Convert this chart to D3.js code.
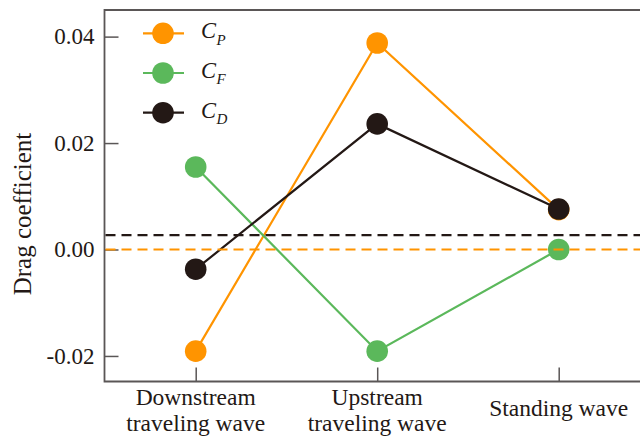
<!DOCTYPE html>
<html>
<head>
<meta charset="utf-8">
<script src="https://cdn.jsdelivr.net/npm/d3@7"></script>
<style>
  body { margin: 0; background: #fff; }
  text { font-family: "Liberation Serif", "Times New Roman", serif; fill: #231815; }
</style>
</head>
<body>
<div id="chart"></div>
<script>
// categories on the x axis (two-line labels)
const categories = ["Downstream traveling wave", "Upstream traveling wave", "Standing wave"];
const categoryLines = [["Downstream", "traveling wave"], ["Upstream", "traveling wave"], ["Standing wave"]];

// drag coefficient components
const cpValues = [-0.0191, 0.0388, 0.0075];
const cfValues = [0.0155, -0.0191, 0.0];
const cdValues = [-0.0037, 0.0236, 0.0076];

// reference levels (dashed)
const cpRef = 0.0;
const cdRef = 0.0027;

const yTicks = [-0.02, 0.0, 0.02, 0.04];

const series = [
  {name: "P", values: cpValues, color: "#ff9400"},
  {name: "F", values: cfValues, color: "#5bb85b"},
  {name: "D", values: cdValues, color: "#231815"}
];

const W = 640, H = 441;
const plotLeft = 104.5, plotTop = 10, plotBottom = 381.5;

const svg = d3.select("#chart").append("svg")
  .attr("width", W).attr("height", H);

//scales
const x = d3.scalePoint().domain(categories).range([195.7, 558.7]);
const y = d3.scaleLinear().domain([-0.0248, 0.045]).range([plotBottom, plotTop]);

const axisColor = "#5a5656";
const fmt = d3.format(".2f");

//y axis with inward ticks
const yAxis = svg.append("g")
  .attr("transform", `translate(${plotLeft},0)`)
  .call(d3.axisLeft(y).tickValues(yTicks).tickSize(-14).tickPadding(10)
    .tickFormat(d => fmt(d).replace("\u2212", "-")));
yAxis.select(".domain").remove();
yAxis.selectAll("line").attr("stroke", axisColor).attr("stroke-width", 1.5);
yAxis.selectAll("text").attr("font-size", 23).attr("font-family", null).attr("fill", "#231815");

//x axis with inward ticks
const xAxis = svg.append("g")
  .attr("transform", `translate(0,${plotBottom})`)
  .call(d3.axisBottom(x).tickSize(-14).tickFormat(""));
xAxis.select(".domain").remove();
xAxis.selectAll("line").attr("stroke", axisColor).attr("stroke-width", 1.5);

//x labels
categories.forEach((c, i) => {
  const lines = categoryLines[i];
  const t = svg.append("text")
    .attr("x", x(c))
    .attr("text-anchor", "middle")
    .attr("font-size", 23.5);
  if (lines.length === 2) {
    t.append("tspan").attr("x", x(c)).attr("y", 405).text(lines[0]);
    t.append("tspan").attr("x", x(c)).attr("y", 431).text(lines[1]);
  } else {
    t.append("tspan").attr("x", x(c)).attr("y", 416).text(lines[0]);
  }
});

//frame
svg.append("path")
  .attr("d", `M${W},${plotTop}H${plotLeft}V${plotBottom}H${W}`)
  .attr("fill", "none")
  .attr("stroke", axisColor)
  .attr("stroke-width", 1.8);

//y label
svg.append("text")
  .attr("transform", `translate(31,214) rotate(-90)`)
  .attr("text-anchor", "middle")
  .attr("font-size", 25)
  .text("Drag coefficient");

//series lines and points
const line = d3.line()
  .x((d, i) => x(categories[i]))
  .y(d => y(d));

series.forEach(s => {
  svg.append("path")
    .datum(s.values)
    .attr("fill", "none")
    .attr("stroke", s.color)
    .attr("stroke-width", 2.2)
    .attr("d", line);
  svg.selectAll(null)
    .data(s.values)
    .enter().append("circle")
    .attr("cx", (d, i) => x(categories[i]))
    .attr("cy", d => y(d))
    .attr("r", 10.8)
    .attr("fill", s.color);
});

//dashed reference lines
[[cdRef, "#231815"], [cpRef, "#ff9400"]].forEach(([v, col]) => {
  svg.append("line")
    .attr("x1", plotLeft + 1).attr("x2", W)
    .attr("y1", y(v)).attr("y2", y(v))
    .attr("stroke", col)
    .attr("stroke-width", 2.2)
    .attr("stroke-dasharray", "10,6");
});

//legend
const legend = svg.append("g");
series.forEach((s, i) => {
  const ly = 33.3 + i * 39.7;
  legend.append("line")
    .attr("x1", 143).attr("x2", 184)
    .attr("y1", ly).attr("y2", ly)
    .attr("stroke", s.color).attr("stroke-width", 2.2);
  legend.append("circle")
    .attr("cx", 163).attr("cy", ly).attr("r", 10.8)
    .attr("fill", s.color);
  const t = legend.append("text")
    .attr("x", 201).attr("y", ly + 4.8)
    .attr("font-size", 22.5)
    .attr("font-style", "italic");
  t.append("tspan").text("C");
  t.append("tspan").attr("font-size", 15).attr("dy", 6.5).attr("dx", 0.5).text(s.name);
});
</script>
</body>
</html>
